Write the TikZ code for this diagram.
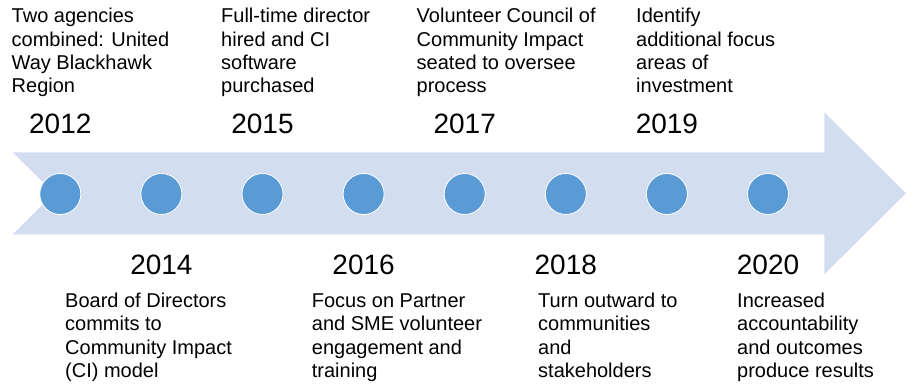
\documentclass[tikz,border=0pt]{standalone}
\usepackage{fontspec}
\setmainfont{Liberation Sans}
\definecolor{arrowfill}{HTML}{D2DEEF}
\definecolor{dotfill}{HTML}{5B9BD5}
\begin{document}
\begin{tikzpicture}[x=1pt,y=-1pt,
  desc/.style={anchor=base west, align=left, inner sep=0pt, font=\fontsize{20}{23.3}\selectfont},
  yearlbl/.style={anchor=base, inner sep=0pt, font=\fontsize{28}{33}\selectfont},
  dot/.style={circle, fill=dotfill, draw=white, line width=0.8pt, minimum size=41pt, inner sep=0pt}]
\useasboundingbox (0,0) rectangle (913,385);
% timeline arrow
\fill[arrowfill] (12.7,152.3) -- (824.3,152.3) -- (824.3,112.3) -- (906,193.3)
  -- (824.3,274.3) -- (824.3,234.3) -- (12.7,234.3) -- (54,193.3) -- cycle;
% dots
\foreach \i [count=\k from 0] in {1,...,8}{
  \node[dot] (c\i) at ({60.3+101.1*\k},194) {};
}
% years
\node[yearlbl] (y2012) at (60.3,133.5) {2012};
\node[yearlbl] (y2015) at (262.5,133.5) {2015};
\node[yearlbl] (y2017) at (464.7,133.5) {2017};
\node[yearlbl] (y2019) at (666.9,133.5) {2019};
\node[yearlbl] (y2014) at (161.4,274.5) {2014};
\node[yearlbl] (y2016) at (363.6,274.5) {2016};
\node[yearlbl] (y2018) at (565.8,274.5) {2018};
\node[yearlbl] (y2020) at (768,274.5) {2020};
% top descriptions (anchor = baseline of last line)
\node[desc] (d2012) at (11.5,92.9) {Two agencies\\combined: United\\Way Blackhawk\\Region};
\node[desc] (d2015) at (221,92.9) {Full-time director\\hired and CI\\software\\purchased};
\node[desc] (d2017) at (416.5,92.9) {Volunteer Council of\\Community Impact\\seated to oversee\\process};
\node[desc] (d2019) at (636,92.9) {Identify\\additional focus\\areas of\\investment};
% bottom descriptions
\node[desc] (d2014) at (65,377.4) {Board of Directors\\commits to\\Community Impact\\(CI) model};
\node[desc] (d2016) at (311.7,377.4) {Focus on Partner\\and SME volunteer\\engagement and\\training};
\node[desc] (d2018) at (538,377.4) {Turn outward to\\communities\\and\\stakeholders};
\node[desc] (d2020) at (737,377.4) {Increased\\accountability\\and outcomes\\produce results};
\end{tikzpicture}
\end{document}
